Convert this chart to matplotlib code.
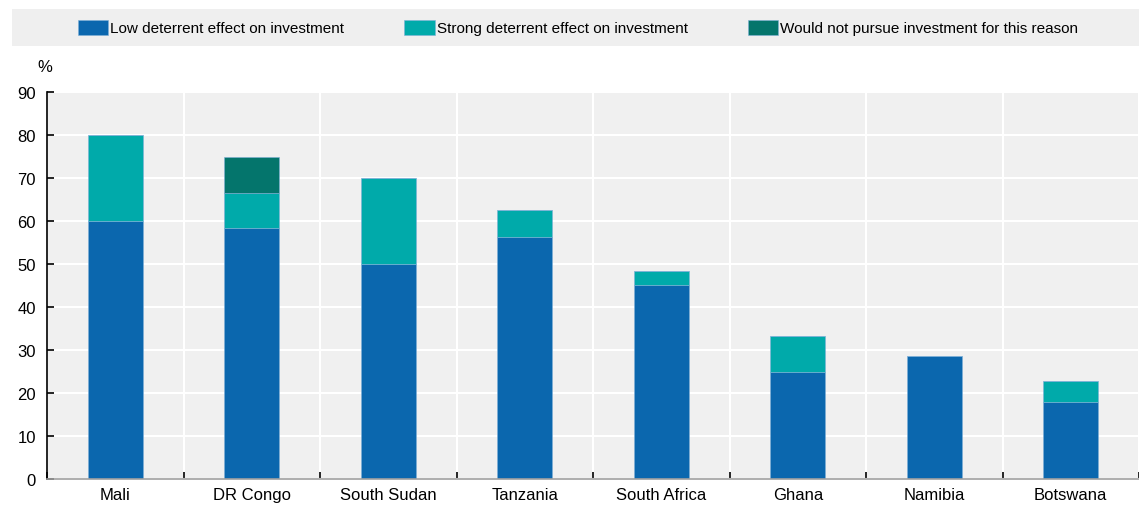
import numpy as np
import matplotlib.pyplot as plt
from matplotlib.patches import Rectangle
from matplotlib import font_manager

countries = ["Mali", "DR Congo", "South Sudan", "Tanzania", "South Africa",
             "Ghana", "Namibia", "Botswana"]
low = [60.0, 58.3, 50.0, 56.3, 45.2, 25.0, 28.5, 18.0]
strong = [20.0, 8.2, 20.0, 6.3, 3.2, 8.3, 0.0, 4.8]
would_not = [0.0, 8.5, 0.0, 0.0, 0.0, 0.0, 0.0, 0.0]
labels = ["Low deterrent effect on investment",
          "Strong deterrent effect on investment",
          "Would not pursue investment for this reason"]
colors = ["#0b67ae", "#00aaaa", "#04756c"]

names = {f.name for f in font_manager.fontManager.ttflist}
family = "Liberation Sans Narrow" if "Liberation Sans Narrow" in names else "Liberation Sans"
plt.rcParams["font.family"] = [family, "DejaVu Sans"]
plt.rcParams["font.size"] = 12

fig = plt.figure(figsize=(11.39, 5.06), dpi=100)
ax = fig.add_axes([47 / 1139, 26 / 506, 1092 / 1139, 387 / 506])
ax.set_facecolor("#f0f0f0")

x = np.arange(len(countries))
bottom = np.zeros(len(countries))
handles = []
for vals, col, lab in zip([low, strong, would_not], colors, labels):
    vals = np.array(vals)
    b = ax.bar(x, vals, 0.4, bottom=bottom, color=col, label=lab,
               edgecolor="#7fb0d8", linewidth=0.4)
    handles.append(b)
    bottom += vals

ax.set_xlim(-0.5, len(countries) - 0.5)
ax.set_ylim(0, 90)
ax.set_yticks(np.arange(0, 91, 10))
ax.set_xticks(x)
ax.set_xticklabels(countries)
ax.set_xticks(np.arange(-0.5, len(countries), 1), minor=True)
ax.grid(True, which="major", axis="y", color="white", linewidth=1.5)
ax.grid(True, which="minor", axis="x", color="white", linewidth=1.5)
ax.set_axisbelow(True)
ax.tick_params(axis="x", which="major", length=0, pad=6)
ax.tick_params(axis="x", which="minor", direction="in", length=5, width=1.2, color="black")
ax.tick_params(axis="y", direction="in", length=5, width=1.2, pad=8)
for s in ["top", "right"]:
    ax.spines[s].set_visible(False)
ax.spines["left"].set_linewidth(1.2)
ax.spines["bottom"].set_color("#a0a0a0")
ax.spines["bottom"].set_linewidth(1.2)

fig.text(45 / 1139, 1 - 67 / 506, "%", ha="center", va="center", fontsize=12)

fig.patches.append(Rectangle((12 / 1139, 1 - 47 / 506), 1127 / 1139, 37 / 506,
                             transform=fig.transFigure, facecolor="#efefef",
                             edgecolor="none", zorder=0))
fig.legend(handles=handles, loc="center", bbox_to_anchor=(578 / 1139, 1 - 28.5 / 506),
           ncol=3, frameon=False, handlelength=2.0, handleheight=1.2,
           handletextpad=0.15, columnspacing=3.9, fontsize=11,
           borderaxespad=0, borderpad=0)

fig.savefig("out.png", dpi=100)
